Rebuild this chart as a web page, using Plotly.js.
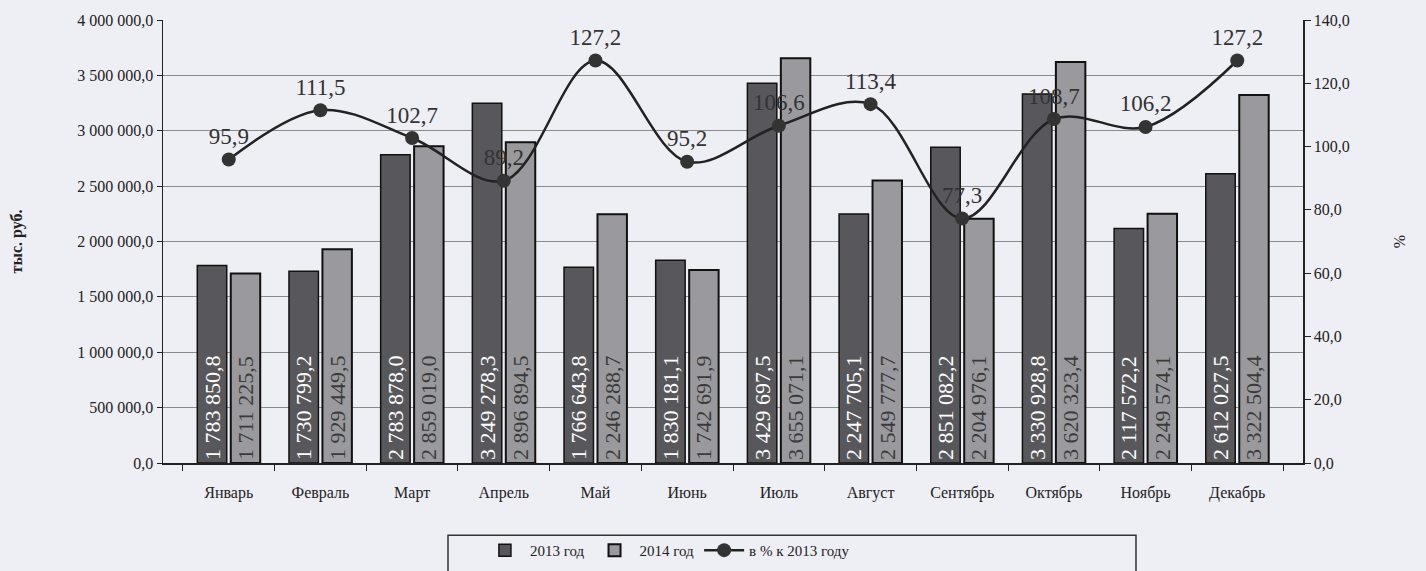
<!DOCTYPE html>
<html>
<head>
<meta charset="utf-8">
<script src="https://cdn.plot.ly/plotly-3.0.1.min.js"></script>
<style>
html,body{margin:0;padding:0;background:#eeeef5;}
#chart{width:1426px;height:571px;}
</style>
</head>
<body>
<div id="chart"></div>
<script>
const months = ["Январь","Февраль","Март","Апрель","Май","Июнь","Июль","Август","Сентябрь","Октябрь","Ноябрь","Декабрь"];
const values2013 = [1783850.8,1730799.2,2783878.0,3249278.3,1766643.8,1830181.1,3429697.5,2247705.1,2851082.2,3330928.8,2117572.2,2612027.5];
const values2014 = [1711225.5,1929449.5,2859019.0,2896894.5,2246288.7,1742691.9,3655071.1,2549777.7,2204976.1,3620323.4,2249574.1,3322504.4];
const percent = [95.9,111.5,102.7,89.2,127.2,95.2,106.6,113.4,77.3,108.7,106.2,127.2];
const leftTickVals = [0,500000,1000000,1500000,2000000,2500000,3000000,3500000,4000000];
const leftTickText = ["0,0","500 000,0","1 000 000,0","1 500 000,0","2 000 000,0","2 500 000,0","3 000 000,0","3 500 000,0","4 000 000,0"];
const rightTickVals = [0,20,40,60,80,100,120,140];
const rightTickText = ["0,0","20,0","40,0","60,0","80,0","100,0","120,0","140,0"];

function fmt(v){
  const parts = v.toFixed(1).split(".");
  const int = parts[0].replace(/\B(?=(\d{3})+(?!\d))/g," ");
  return int + "," + parts[1];
}

const serif = "Liberation Serif, Times New Roman, serif";

const traces = [
  {
    type:"bar", name:"2013 год", x:months, y:values2013,
    marker:{color:"#58585c", line:{color:"#111", width:1.5}},
    text:values2013.map(fmt), textposition:"inside", insidetextanchor:"start",
    textangle:-90, constraintext:"none",
    textfont:{family:serif, size:22, color:"#ffffff"},
    hoverinfo:"skip"
  },
  {
    type:"bar", name:"2014 год", x:months, y:values2014,
    marker:{color:"#9a9a9e", line:{color:"#111", width:2}},
    text:values2014.map(fmt), textposition:"inside", insidetextanchor:"start",
    textangle:-90, constraintext:"none",
    textfont:{family:serif, size:22, color:"#3a3a3a"},
    hoverinfo:"skip"
  },
  {
    type:"scatter", mode:"lines+markers+text", name:"в % к 2013 году",
    x:months, y:percent, yaxis:"y2",
    line:{color:"#222", width:2.5, shape:"spline", smoothing:1},
    marker:{color:"#333", size:14, symbol:"circle"},
    text:percent.map(v=>v.toFixed(1).replace(".",",")), textposition:"top center",
    textfont:{family:serif, size:23, color:"#333"},
    hoverinfo:"skip"
  }
];

const layout = {
  width:1426, height:571,
  paper_bgcolor:"#eeeef5", plot_bgcolor:"#eeeef5",
  margin:{l:163, r:123, t:20, b:108, autoexpand:false},
  barmode:"group", bargap:0.27, bargroupgap:0.12,
  font:{family:serif, color:"#222"},
  showlegend:true,
  legend:{
    orientation:"h", x:0.278, xanchor:"left", y:-0.16, yanchor:"top",
    bgcolor:"rgba(0,0,0,0)", borderwidth:0,
    font:{family:serif, size:15, color:"#222"},
    traceorder:"normal", itemwidth:40
  },
  shapes:[
    {type:"rect", xref:"paper", yref:"paper", x0:0.25, x1:0.8535, y0:-0.163, y1:-0.4,
     line:{color:"#333", width:1.5}, fillcolor:"rgba(0,0,0,0)", layer:"above"}
  ],
  xaxis:{
    type:"category", showline:true, linecolor:"#222", linewidth:1.5,
    ticks:"outside", tickson:"boundaries", ticklen:6, tickcolor:"#222",
    tickfont:{family:serif, size:16, color:"#222"},
    ticklabelstandoff:14,
    showgrid:false
  },
  yaxis:{
    range:[0,4000000], tickvals:leftTickVals, ticktext:leftTickText,
    showline:true, linecolor:"#222", linewidth:1.5,
    ticks:"outside", ticklen:5, tickcolor:"#222",
    showgrid:true, gridcolor:"#8a8a8a", gridwidth:1,
    tickfont:{family:serif, size:16, color:"#222"},
    title:{text:"<b>тыс. руб.</b>", font:{family:serif, size:16, color:"#222"}, standoff:50},
    zeroline:false
  },
  yaxis2:{
    overlaying:"y", side:"right", range:[0,140],
    tickvals:rightTickVals, ticktext:rightTickText,
    showline:true, linecolor:"#222", linewidth:1.5,
    ticks:"outside", ticklen:6, tickcolor:"#222",
    showgrid:false, zeroline:false,
    tickfont:{family:serif, size:16, color:"#222"},
    title:{text:"%", font:{family:serif, size:16, color:"#222"}, standoff:45}
  }
};

Plotly.newPlot("chart", traces, layout, {displayModeBar:false, staticPlot:true});
</script>
</body>
</html>
